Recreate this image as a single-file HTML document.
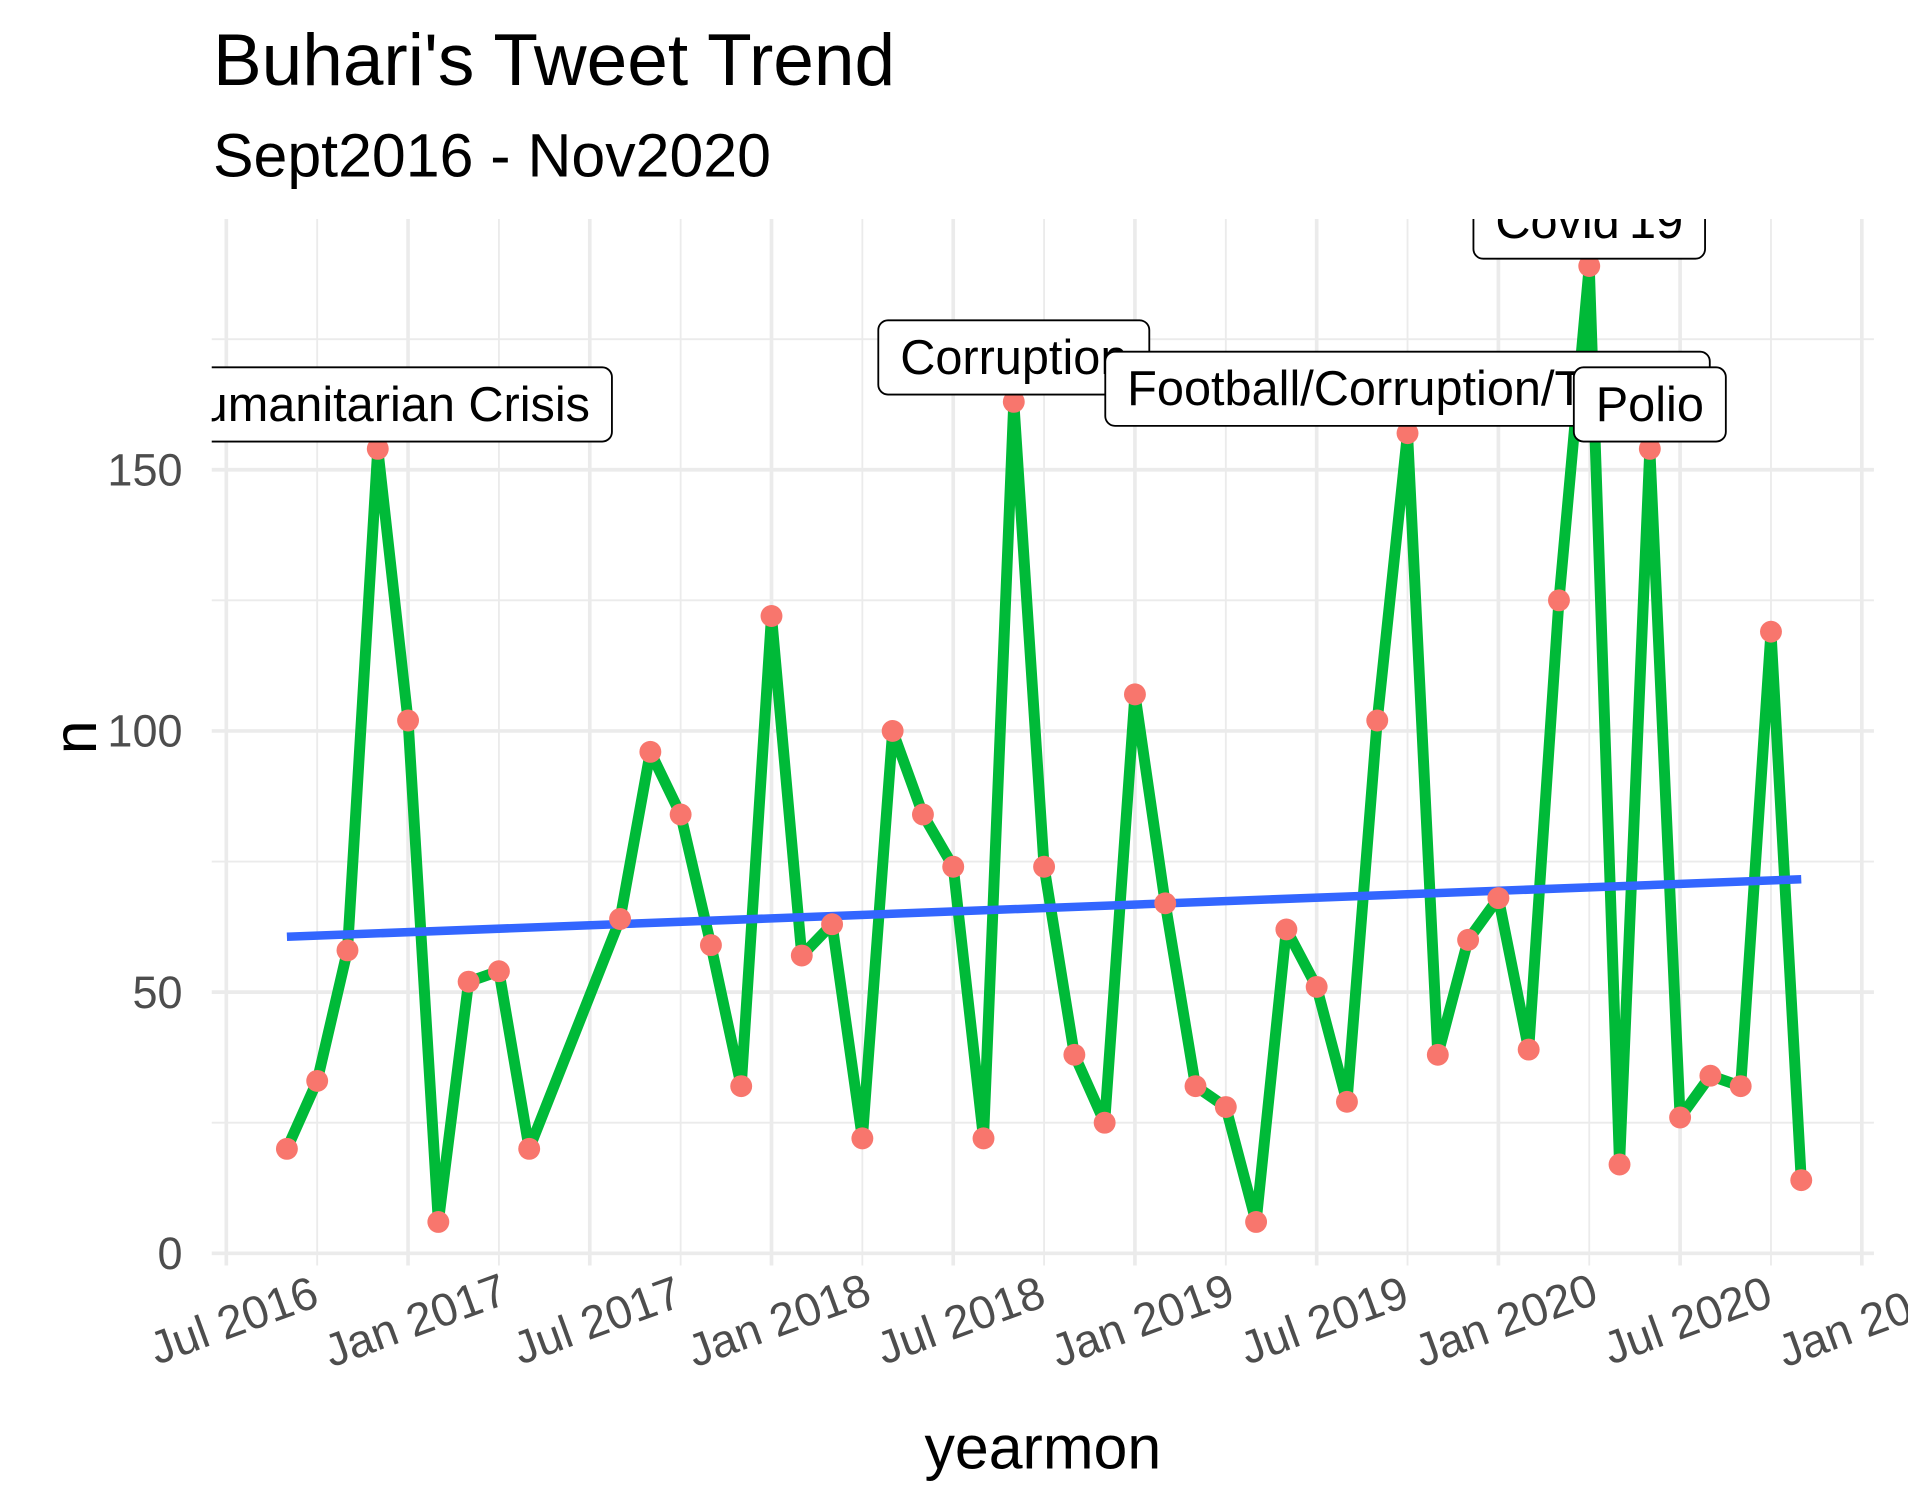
<!DOCTYPE html>
<html><head><meta charset="utf-8"><style>html,body{margin:0;padding:0;background:#fff}svg{display:block}</style></head>
<body>
<svg id="chart" width="1908" height="1512" viewBox="0 0 1568 1242.6" preserveAspectRatio="none" xmlns="http://www.w3.org/2000/svg" font-family="Liberation Sans, Arial, sans-serif">
<defs><clipPath id="panel"><rect x="174" y="180" width="1366" height="860"/></clipPath></defs>
<text x="175" y="70" font-size="60" fill="#000">Buhari's Tweet Trend</text>
<text x="175" y="145" font-size="50" fill="#000">Sept2016 - Nov2020</text>
<g id="grid"></g>
<g id="marks" clip-path="url(#panel)"></g>
<g id="axes"></g>
<text x="857" y="1207" font-size="50" text-anchor="middle" fill="#000">yearmon</text>
<text x="62" y="606" font-size="50" text-anchor="middle" fill="#000" transform="rotate(-90 62 606) translate(0 17)">n</text>
</svg>
<script>
// months indexed from Jul 2016 = 0
const monthIdx = [2,3,4,5,6,7,8,9,10,13,14,15,16,17,18,19,20,21,22,23,24,25,26,27,28,29,30,31,32,33,34,35,36,37,38,39,40,41,42,43,44,45,46,47,48,49,50,51,52];
const counts = [20,33,58,154,102,6,52,54,20,64,96,84,59,32,122,57,63,22,100,84,74,22,163,74,38,25,107,67,32,28,6,62,51,29,102,157,38,60,68,39,125,189,17,154,26,34,32,119,14];
const trendStart = 60.6, trendEnd = 71.6;
const xTickLabels = ["Jul 2016","Jan 2017","Jul 2017","Jan 2018","Jul 2018","Jan 2019","Jul 2019","Jan 2020","Jul 2020","Jan 2021"];
const yTicks = [0,50,100,150];
const yMinor = [25,75,125,175];
const annotLabels = ["Humanitarian  Crisis","Corruption","Football/Corruption/Travel","Covid'19","Polio"];
const annotMonths = [5,26,39,45,47];

const NS="http://www.w3.org/2000/svg";
const X = m => 186 + m*24.89;
const Y = v => 1030 - v*4.293;
function mk(tag, attrs, parent){const e=document.createElementNS(NS,tag);for(const k in attrs)e.setAttribute(k,attrs[k]);parent.appendChild(e);return e;}
const grid=document.getElementById('grid'), marks=document.getElementById('marks'), axes=document.getElementById('axes');

yMinor.forEach(v=>{const l=mk('line',{x1:174,x2:1540,y1:Y(v),y2:Y(v),stroke:'#ebebeb','stroke-width':1.5},grid);

});
xTickLabels.forEach((t,i)=>{if(i<9){const l=mk('line',{x1:X(i*6+3),x2:X(i*6+3),y1:180,y2:1040,stroke:'#ebebeb','stroke-width':1.5},grid);

}});
yTicks.forEach(v=>{const l=mk('line',{x1:174,x2:1540,y1:Y(v),y2:Y(v),stroke:'#ebebeb','stroke-width':3},grid);


const t=mk('text',{x:150,y:Y(v)+13,'font-size':37,'text-anchor':'end',fill:'#4d4d4d'},axes);t.textContent=v;

});
xTickLabels.forEach((s,i)=>{const x=X(i*6);const l=mk('line',{x1:x,x2:x,y1:180,y2:1040,stroke:'#ebebeb','stroke-width':3},grid);


const cx=x+6, cy=1085;
const t=mk('text',{x:cx,y:cy+13,'font-size':38,'text-anchor':'middle',fill:'#4d4d4d',transform:`rotate(-20 ${cx} ${cy})`},axes);t.textContent=s;

});

const pts=monthIdx.map((m,i)=>X(m)+','+Y(counts[i])).join(' ');
const line=mk('polyline',{points:pts,fill:'none',stroke:'#00BA38','stroke-width':9,'stroke-linejoin':'round'},marks);


const tr=mk('line',{x1:X(monthIdx[0]),y1:Y(trendStart),x2:X(monthIdx[monthIdx.length-1]),y2:Y(trendEnd),stroke:'#3366FF','stroke-width':7},marks);


monthIdx.forEach((m,i)=>{const c=mk('circle',{cx:X(m),cy:Y(counts[i]),r:9,fill:'#F8766D'},marks);

});

annotLabels.forEach((s,i)=>{const m=annotMonths[i];const k=monthIdx.indexOf(m);const x=X(m),yb=Y(counts[k])-6;
const g=mk('g',{},marks);


const t=mk('text',{x:x,y:yb-17,'font-size':40,'text-anchor':'middle',fill:'#000'},g);t.textContent=s;
const w=t.getComputedTextLength()+36;
const r=mk('rect',{x:x-w/2,y:yb-61,width:w,height:61,rx:8,fill:'#fff',stroke:'#000','stroke-width':1.5},g);
g.insertBefore(r,t);});
</script>
</body></html>
